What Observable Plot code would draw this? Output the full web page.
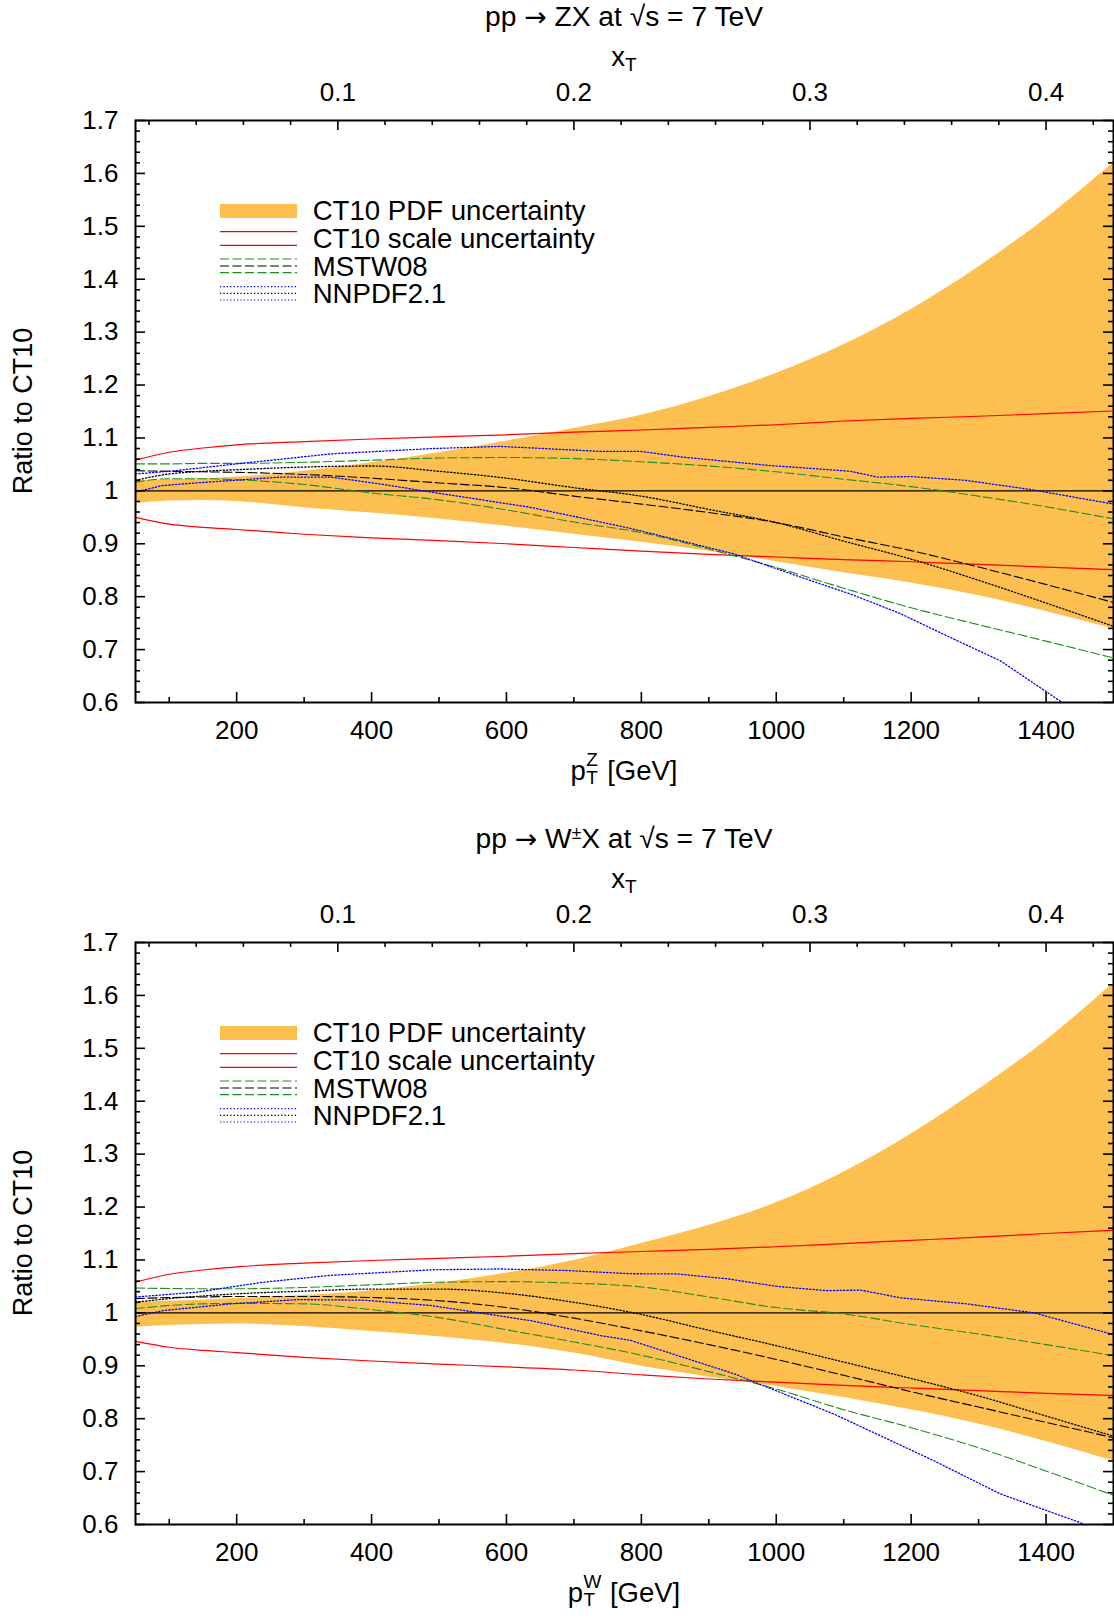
<!DOCTYPE html>
<html><head><meta charset="utf-8">
<script src="https://cdn.jsdelivr.net/npm/d3@7"></script>
<script src="https://cdn.jsdelivr.net/npm/@observablehq/plot@0.6"></script>
<style>
body{margin:0;background:#fff;}
#page{position:relative;width:1114px;height:1618px;overflow:hidden;font-family:"Liberation Sans",Arial,Helvetica,sans-serif;color:#000;background:#fff;}
.panel{position:absolute;left:0;width:1114px;}
.lab{position:absolute;transform:translate(-50%,-50%);white-space:nowrap;font-size:27.5px;line-height:1;}
.ttl{font-size:28.2px;}
.ylab{position:absolute;transform:translate(-50%,-50%) rotate(-90deg);white-space:nowrap;font-size:27px;line-height:1;}
.arr{font-family:"DejaVu Sans",sans-serif;font-size:0.95em;}
.sb{position:relative;font-size:0.69em;top:0.28em;}
.sp{position:relative;font-size:0.62em;top:-0.5em;}
.stk{display:inline-block;position:relative;width:0.5em;height:0.7em;}
.stk.w{width:0.7em;}
.stk .a{position:absolute;left:0.03em;top:-0.52em;font-size:0.69em;}
.stk .b{position:absolute;left:0.03em;top:0.42em;font-size:0.69em;}
.leg{position:absolute;left:215px;}
</style>
</head><body>
<div id="page"></div>
<script>
// ---------------- data ----------------
const sqrtS = 7000;                       // GeV, x_T = 2 pT / sqrt(s)
const grid = [50,100,150,200,300,400,500,600,700,800,900,1000,1100,1200,1300,1400,1500];

// ---- pp -> Z X ----
const zPdfHi   = [1.019,1.021,1.023,1.026,1.037,1.053,1.072,1.094,1.118,1.143,1.178,1.222,1.276,1.343,1.423,1.515,1.620];
const zPdfLo   = [0.976,0.981,0.982,0.980,0.968,0.958,0.947,0.933,0.918,0.903,0.886,0.866,0.845,0.826,0.802,0.772,0.739];
const zScaleHi = [1.058,1.073,1.081,1.087,1.093,1.098,1.102,1.106,1.111,1.115,1.120,1.125,1.132,1.137,1.141,1.146,1.151];
const zScaleLo = [0.950,0.937,0.931,0.927,0.918,0.911,0.906,0.900,0.893,0.886,0.880,0.875,0.870,0.866,0.861,0.856,0.851];
const zMstwHi  = [1.051,1.051,1.052,1.052,1.054,1.058,1.062,1.063,1.061,1.055,1.047,1.036,1.022,1.008,0.990,0.970,0.947];
const zMstwCen = [1.038,1.037,1.036,1.035,1.031,1.024,1.015,1.006,0.990,0.975,0.959,0.940,0.913,0.887,0.856,0.823,0.789];
const zMstwLo  = [1.0165,1.023,1.023,1.021,1.012,0.996,0.983,0.964,0.941,0.921,0.890,0.855,0.816,0.779,0.747,0.716,0.684];
const zNnCen   = [1.020,1.032,1.037,1.040,1.045,1.047,1.037,1.024,1.006,0.990,0.965,0.940,0.905,0.871,0.831,0.788,0.744];
const zNnHiPt  = [50,100,200,340,490,590,640,740,800,860,990,1110,1150,1200,1280,1380,1500];
const zNnHi    = [1.032,1.037,1.051,1.070,1.080,1.084,1.081,1.0745,1.0745,1.064,1.048,1.037,1.026,1.027,1.020,1.002,0.975];
const zNnLoPt  = [50,90,140,265,340,413,487,635,740,784,937,1036,1110,1184,1258,1332,1424];
const zNnLo    = [0.998,1.010,1.015,1.026,1.026,1.013,0.998,0.969,0.941,0.929,0.881,0.837,0.805,0.768,0.723,0.679,0.600];

// ---- pp -> W X ----
const wPdfHi   = [1.020,1.022,1.024,1.027,1.033,1.042,1.056,1.075,1.099,1.131,1.165,1.208,1.266,1.338,1.422,1.515,1.623];
const wPdfLo   = [0.973,0.976,0.978,0.979,0.974,0.965,0.955,0.942,0.924,0.899,0.879,0.861,0.840,0.817,0.790,0.757,0.720];
const wScaleHi = [1.058,1.073,1.081,1.087,1.094,1.099,1.103,1.107,1.112,1.116,1.120,1.125,1.131,1.137,1.143,1.150,1.156];
const wScaleLo = [0.946,0.935,0.929,0.925,0.916,0.909,0.903,0.898,0.892,0.883,0.875,0.869,0.863,0.858,0.853,0.848,0.844];
const wMstwHi  = [1.047,1.046,1.0455,1.0455,1.048,1.053,1.058,1.059,1.056,1.049,1.030,1.010,0.998,0.978,0.960,0.940,0.919];
const wMstwCen = [1.027,1.029,1.030,1.031,1.031,1.029,1.023,1.010,0.990,0.966,0.940,0.912,0.882,0.851,0.822,0.793,0.764];
const wMstwLo  = [1.008,1.014,1.017,1.018,1.017,1.006,0.991,0.968,0.945,0.920,0.889,0.856,0.817,0.783,0.745,0.701,0.655];
const wNnCen   = [1.020,1.027,1.032,1.036,1.041,1.045,1.045,1.037,1.020,0.997,0.967,0.938,0.907,0.876,0.843,0.805,0.767];
const wNnHiPt  = [50,140,240,340,490,590,690,785,853,927,1001,1075,1125,1184,1283,1382,1500];
const wNnHi    = [1.030,1.039,1.058,1.071,1.0815,1.083,1.080,1.074,1.0735,1.0645,1.050,1.042,1.043,1.0285,1.017,1.000,0.959];
const wNnLoPt  = [50,92,191,290,388,487,635,740,784,937,1085,1233,1332,1456];
const wNnLo    = [0.993,1.0045,1.017,1.025,1.024,1.014,0.9856,0.957,0.948,0.885,0.809,0.721,0.658,0.601];

// ---- axes ----
const xMajorTicks  = [200,400,600,800,1000,1200,1400];
const xMinorTicks  = [100,300,500,700,900,1100,1300];
const xtMajorTicks = [0.1,0.2,0.3,0.4];
const xtMinorTicks = [0.02,0.04,0.06,0.08,0.12,0.14,0.16,0.18,0.22,0.24,0.26,0.28,0.32,0.34,0.36,0.38,0.42];
const yMajorTicks  = [0.6,0.7,0.8,0.9,1.0,1.1,1.2,1.3,1.4,1.5,1.6,1.7];
const yTickLabels  = ["0.6","0.7","0.8","0.9","1","1.1","1.2","1.3","1.4","1.5","1.6","1.7"];
const yMinorTicks  = d3.range(0.62, 1.7, 0.02).map(v => +v.toFixed(2)).filter(v => Math.abs(v*10 - Math.round(v*10)) > 1e-6);

const legendLabels = ["CT10 PDF uncertainty","CT10 scale uncertainty","MSTW08","NNPDF2.1"];

// ---------------- style ----------------
const ORANGE = "#fdbf4f", RED = "#ff0000", GREEN = "#1f8f1f", BLUE = "#0000ff";
const DASH = "9,3.5", DOT = "1.3,2.1";
const W = 1114, H = 822, MT = 120, MB = 120, ML = 135, MR = 1;
const FH = H - MT - MB, FW = W - ML - MR;

function rows(xs, ys) { return xs.map((x, i) => ({pt: x, v: ys[i]})); }
function ln(xs, ys, stroke, dash, curve = "monotone-x", sw = 1.1) {
  return Plot.line(rows(xs, ys), {x: "pt", y: "v", stroke, strokeWidth: sw, strokeDasharray: dash, curve, clip: true});
}

function panel(d) {
  const band = grid.map((x, i) => ({pt: x, lo: d.pdfLo[i], hi: d.pdfHi[i]}));
  return Plot.plot({
    width: W, height: H,
    marginTop: MT, marginBottom: MB, marginLeft: ML, marginRight: MR,
    x: {domain: [50, 1500]},
    y: {domain: [0.6, 1.7]},
    style: {fontFamily: '"Liberation Sans", Arial, Helvetica, sans-serif', fontSize: "26px", color: "#000", background: "transparent", overflow: "visible"},
    marks: [
      Plot.areaY(band, {x: "pt", y1: "lo", y2: "hi", fill: ORANGE, curve: "monotone-x", clip: true}),
      ln(grid, d.scaleHi, RED, null, "monotone-x", 1.2),
      ln(grid, d.scaleLo, RED, null, "monotone-x", 1.2),
      Plot.ruleY([1], {stroke: "#000", strokeWidth: 1.2}),
      ln(grid, d.mstwHi, GREEN, DASH),
      ln(grid, d.mstwLo, GREEN, DASH),
      ln(grid, d.mstwCen, "#000", DASH),
      ln(grid, d.nnCen, "#000", DOT, "monotone-x", 1.3),
      ln(d.nnHiPt, d.nnHi, BLUE, DOT, "linear", 1.3),
      ln(d.nnLoPt, d.nnLo, BLUE, DOT, "linear", 1.3),
      // ticks (inward, gnuplot style)
      Plot.tickX(xMajorTicks, {x: d => d, stroke: "#000", strokeWidth: 1.6, insetTop: FH - 10}),
      Plot.tickX(xMinorTicks, {x: d => d, stroke: "#000", strokeWidth: 1.6, insetTop: FH - 5}),
      Plot.tickX(xtMajorTicks, {x: d => d * sqrtS / 2, stroke: "#000", strokeWidth: 1.6, insetBottom: FH - 10}),
      Plot.tickX(xtMinorTicks, {x: d => d * sqrtS / 2, stroke: "#000", strokeWidth: 1.6, insetBottom: FH - 5}),
      Plot.tickY(yMajorTicks, {y: d => d, stroke: "#000", strokeWidth: 1.6, insetRight: FW - 10}),
      Plot.tickY(yMinorTicks, {y: d => d, stroke: "#000", strokeWidth: 1.6, insetRight: FW - 5}),
      Plot.tickY(yMajorTicks, {y: d => d, stroke: "#000", strokeWidth: 1.6, insetLeft: FW - 10}),
      Plot.tickY(yMinorTicks, {y: d => d, stroke: "#000", strokeWidth: 1.6, insetLeft: FW - 5}),
      Plot.frame({stroke: "#000", strokeWidth: 2}),
      Plot.axisX({anchor: "bottom", ticks: xMajorTicks, tickSize: 0, tickPadding: 18, tickFormat: d => String(d), label: null}),
      Plot.axisX({anchor: "top", ticks: xtMajorTicks.map(v => v * sqrtS / 2), tickSize: 0, tickPadding: 20, tickFormat: d => (2 * d / sqrtS).toFixed(1), label: null}),
      Plot.axisY({anchor: "left", ticks: yMajorTicks, tickSize: 0, tickPadding: 17, tickFormat: d => yTickLabels[yMajorTicks.findIndex(v => Math.abs(v - d) < 1e-9)], label: null})
    ]
  });
}

function legend() {
  const svg = d3.create("svg").attr("width", 520).attr("height", 115).style("overflow", "visible")
    .style("font-family", '"Liberation Sans", Arial, sans-serif').style("font-size", "27.6px");
  svg.append("rect").attr("x", 5).attr("y", 4).attr("width", 77).attr("height", 14).attr("fill", ORANGE);
  const line = (y, stroke, dash) => svg.append("line").attr("x1", 5).attr("x2", 82).attr("y1", y).attr("y2", y)
    .attr("stroke", stroke).attr("stroke-width", 1.2).attr("stroke-dasharray", dash);
  line(31.7, RED, null); line(45.3, RED, null);
  line(59, GREEN, DASH); line(66, "#000", DASH); line(72.7, GREEN, DASH);
  line(86.7, BLUE, DOT); line(93.3, "#000", DOT); line(100, BLUE, DOT);
  [10.5, 38.3, 66, 93].forEach((y, i) => svg.append("text").attr("x", 97.7).attr("y", y).attr("dy", "0.35em").text(legendLabels[i]));
  return svg.node();
}

const page = document.getElementById("page");
const panels = [
  {top: 0, title: 'pp <span class="arr">→</span> ZX at √s = 7 TeV', xl: 'p<span class="stk"><span class="a">Z</span><span class="b">T</span></span> [GeV]',
   pdfHi: zPdfHi, pdfLo: zPdfLo, scaleHi: zScaleHi, scaleLo: zScaleLo, mstwHi: zMstwHi, mstwCen: zMstwCen, mstwLo: zMstwLo,
   nnCen: zNnCen, nnHiPt: zNnHiPt, nnHi: zNnHi, nnLoPt: zNnLoPt, nnLo: zNnLo},
  {top: 822, title: 'pp <span class="arr">→</span> W<span class="sp">±</span>X at √s = 7 TeV', xl: 'p<span class="stk w"><span class="a">W</span><span class="b">T</span></span> [GeV]',
   pdfHi: wPdfHi, pdfLo: wPdfLo, scaleHi: wScaleHi, scaleLo: wScaleLo, mstwHi: wMstwHi, mstwCen: wMstwCen, mstwLo: wMstwLo,
   nnCen: wNnCen, nnHiPt: wNnHiPt, nnHi: wNnHi, nnLoPt: wNnLoPt, nnLo: wNnLo}
];
panels.forEach(p => {
  const div = document.createElement("div");
  div.className = "panel"; div.style.top = p.top + "px";
  div.appendChild(panel(p));
  page.appendChild(div);
  const add = (cls, html, x, y) => {
    const e = document.createElement("div"); e.className = cls; e.innerHTML = html;
    e.style.left = x + "px"; e.style.top = (p.top + y) + "px"; page.appendChild(e);
  };
  add("lab ttl", p.title, 624, 16);
  add("lab", 'x<span class="sb">T</span>', 624, 56.5);
  add("ylab", "Ratio to CT10", 22.7, 411);
  add("lab", p.xl, 624, 771);
  const lg = legend(); lg.classList.add("leg"); lg.style.top = (p.top + 200) + "px";
  page.appendChild(lg);
});
</script>
</body></html>
